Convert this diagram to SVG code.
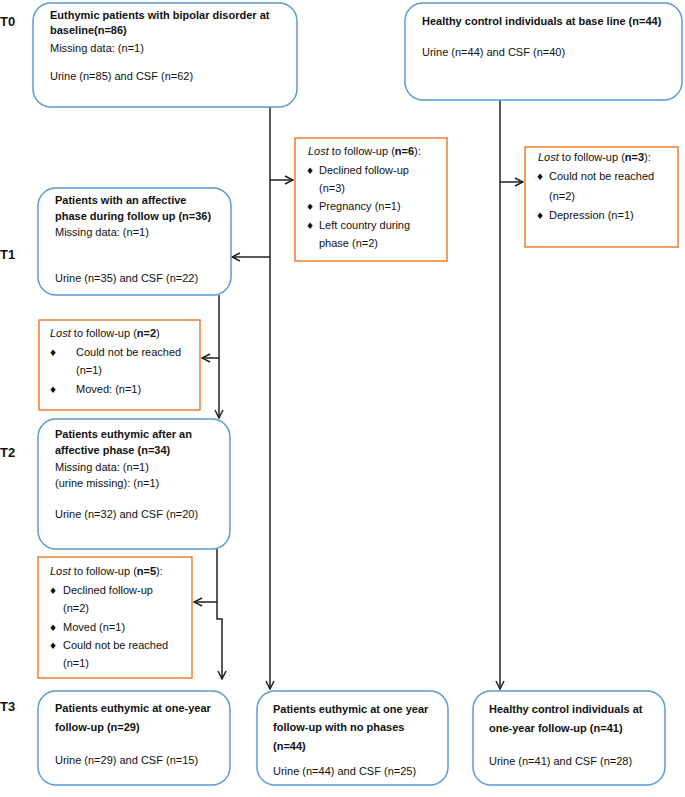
<svg xmlns="http://www.w3.org/2000/svg" width="685" height="797" viewBox="0 0 685 797">
<defs>
<style>
text{font-family:"Liberation Sans",Arial,sans-serif;font-size:11px;fill:#111}
.b{font-weight:bold}
.i{font-style:italic}
.lbl{font-size:13px;font-weight:bold}
.blt{font-family:"DejaVu Sans",sans-serif;font-size:9px}
.node{fill:#fff;stroke:#5B9BD5;stroke-width:1.5}
.lost{fill:#fff;stroke:#ED7D31;stroke-width:1.5}
.c{fill:none;stroke:#222;stroke-width:1.5}
</style>
<marker id="ah" viewBox="0 0 10 10" refX="9" refY="5" markerWidth="10" markerHeight="10" markerUnits="userSpaceOnUse" orient="auto">
<path d="M1,1 L9,5 L1,9" fill="none" stroke="#222" stroke-width="1.5"/>
</marker>
</defs>
<rect width="685" height="797" fill="#fff"/>

<g id="labels">
<text class="lbl" x="0" y="26">T0</text>
<text class="lbl" x="0" y="259">T1</text>
<text class="lbl" x="0" y="457">T2</text>
<text class="lbl" x="0" y="711">T3</text>
</g>

<g id="connectors">
<line class="c" x1="270" y1="107" x2="270" y2="689" marker-end="url(#ah)"/>
<line class="c" x1="270" y1="180" x2="293" y2="180" marker-end="url(#ah)"/>
<line class="c" x1="270" y1="257" x2="232" y2="257" marker-end="url(#ah)"/>
<line class="c" x1="500" y1="100" x2="500" y2="689" marker-end="url(#ah)"/>
<line class="c" x1="500" y1="182" x2="523" y2="182" marker-end="url(#ah)"/>
<line class="c" x1="219" y1="295" x2="219" y2="418" marker-end="url(#ah)"/>
<line class="c" x1="219" y1="358" x2="202" y2="358" marker-end="url(#ah)"/>
<polyline class="c" points="217,549 217,619 222,619 222,679" marker-end="url(#ah)"/>
<line class="c" x1="217" y1="602" x2="194" y2="602" marker-end="url(#ah)"/>
</g>

<g id="t0-patients">
<rect class="node" x="33" y="3" width="264" height="104" rx="18"/>
<text class="b" x="50" y="19">Euthymic patients with bipolar disorder at</text>
<text class="b" x="50" y="34">baseline(n=86)</text>
<text x="50" y="52">Missing data: (n=1)</text>
<text x="50" y="80">Urine (n=85) and CSF (n=62)</text>
</g>

<g id="t0-controls">
<rect class="node" x="405" y="3" width="277" height="97" rx="18"/>
<text class="b" x="422" y="25">Healthy control individuals at base line (n=44)</text>
<text x="422" y="56">Urine (n=44) and CSF (n=40)</text>
</g>

<g id="lost-6">
<rect class="lost" x="295" y="138" width="152" height="123"/>
<text x="308" y="155"><tspan class="i">Lost</tspan> to follow-up (<tspan class="b">n=6</tspan>):</text>
<text class="blt" x="306" y="174">♦</text>
<text x="319" y="174">Declined follow-up</text>
<text x="319" y="192">(n=3)</text>
<text class="blt" x="306" y="210">♦</text>
<text x="319" y="210">Pregnancy (n=1)</text>
<text class="blt" x="306" y="229">♦</text>
<text x="319" y="229">Left country during</text>
<text x="319" y="247">phase (n=2)</text>
</g>

<g id="lost-3">
<rect class="lost" x="525" y="147" width="153" height="100"/>
<text x="538" y="161"><tspan class="i">Lost</tspan> to follow-up (<tspan class="b">n=3</tspan>):</text>
<text class="blt" x="536" y="180">♦</text>
<text x="549" y="180">Could not be reached</text>
<text x="549" y="200">(n=2)</text>
<text class="blt" x="536" y="219">♦</text>
<text x="549" y="219">Depression (n=1)</text>
</g>

<g id="t1-patients">
<rect class="node" x="38" y="188" width="193" height="107" rx="18"/>
<text class="b" x="55" y="204">Patients with an affective</text>
<text class="b" x="55" y="220">phase during follow up (n=36)</text>
<text x="55" y="236">Missing data: (n=1)</text>
<text x="55" y="282">Urine (n=35) and CSF (n=22)</text>
</g>

<g id="lost-2">
<rect class="lost" x="39" y="320" width="161" height="90"/>
<text x="50" y="337"><tspan class="i">Lost</tspan> to follow-up (<tspan class="b">n=2</tspan>)</text>
<text class="blt" x="49" y="356">♦</text>
<text x="76" y="356">Could not be reached</text>
<text x="76" y="374">(n=1)</text>
<text class="blt" x="49" y="393">♦</text>
<text x="76" y="393">Moved: (n=1)</text>
</g>

<g id="t2-patients">
<rect class="node" x="38" y="419" width="192" height="130" rx="18"/>
<text class="b" x="55" y="438">Patients euthymic after an</text>
<text class="b" x="55" y="454">affective phase (n=34)</text>
<text x="55" y="471">Missing data: (n=1)</text>
<text x="55" y="487">(urine missing): (n=1)</text>
<text x="55" y="518">Urine (n=32) and CSF (n=20)</text>
</g>

<g id="lost-5">
<rect class="lost" x="38" y="557" width="154" height="121"/>
<text x="50" y="575"><tspan class="i">Lost</tspan> to follow-up (<tspan class="b">n=5</tspan>):</text>
<text class="blt" x="49" y="594">♦</text>
<text x="63" y="594">Declined follow-up</text>
<text x="63" y="612">(n=2)</text>
<text class="blt" x="49" y="631">♦</text>
<text x="63" y="631">Moved (n=1)</text>
<text class="blt" x="49" y="649">♦</text>
<text x="63" y="649">Could not be reached</text>
<text x="63" y="667">(n=1)</text>
</g>

<g id="t3-patients-phase">
<rect class="node" x="38" y="691" width="192" height="94" rx="18"/>
<text class="b" x="55" y="712">Patients euthymic at one-year</text>
<text class="b" x="55" y="731">follow-up (n=29)</text>
<text x="55" y="764">Urine (n=29) and CSF (n=15)</text>
</g>

<g id="t3-patients-nophase">
<rect class="node" x="257" y="691" width="191" height="94" rx="18"/>
<text class="b" x="273" y="713">Patients euthymic at one year</text>
<text class="b" x="273" y="731">follow-up with no phases</text>
<text class="b" x="273" y="750">(n=44)</text>
<text x="273" y="775">Urine (n=44) and CSF (n=25)</text>
</g>

<g id="t3-controls">
<rect class="node" x="473" y="691" width="192" height="94" rx="18"/>
<text class="b" x="489" y="713">Healthy control individuals at</text>
<text class="b" x="489" y="732">one-year follow-up (n=41)</text>
<text x="489" y="765">Urine (n=41) and CSF (n=28)</text>
</g>
</svg>
